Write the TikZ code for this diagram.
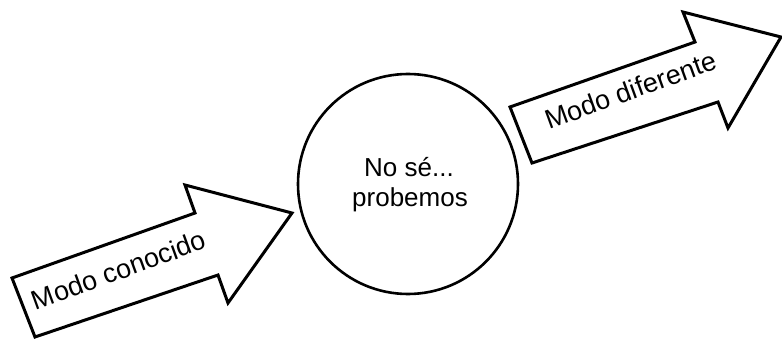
\documentclass[tikz,border=0pt]{standalone}
\usepackage{fontspec}
\setmainfont{Liberation Sans}
\begin{document}
\begin{tikzpicture}[x=1pt,y=-1pt,
  arrowshape/.style={draw=black,line width=3pt,line join=miter,fill=white},
  arrowlabel/.style={font=\fontsize{27}{32}\selectfont,anchor=base,inner sep=0pt,rotate=20},
  thinkcircle/.style={draw=black,line width=2.6pt,circle,minimum size=220pt,inner sep=0pt,align=center,font=\fontsize{26}{31}\selectfont}]
\useasboundingbox (0,0) rectangle (782,342);
% left arrow
\draw[arrowshape] (12,278) -- (195,213) -- (185,185) -- (292,213) -- (228,303) -- (218,275) -- (35,337) -- cycle;
\node[arrowlabel] (known) at (122,279) {Modo conocido};
% circle
\node[thinkcircle] (mid) at (408,184) {};
\node[font=\fontsize{26}{31}\selectfont,anchor=base,inner sep=0pt] (t1) at (409,176) {No sé...};
\node[font=\fontsize{26}{31}\selectfont,anchor=base,inner sep=0pt] (t2) at (410,207) {probemos};
% right arrow
\draw[arrowshape] (510,107) -- (695,42) -- (683,12) -- (781,37) -- (728,128) -- (718,102) -- (532,163) -- cycle;
\node[arrowlabel] (diff) at (634,99) {Modo diferente};
\end{tikzpicture}
\end{document}
